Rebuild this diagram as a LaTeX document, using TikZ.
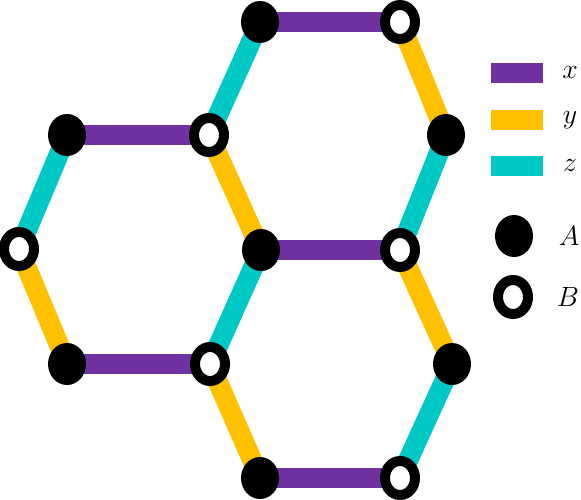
\documentclass[tikz,border=0pt]{standalone}
\usetikzlibrary{shapes.geometric,backgrounds}
\definecolor{cx}{RGB}{112,50,160}
\definecolor{cy}{RGB}{255,192,0}
\definecolor{cz}{RGB}{0,200,197}
\newcommand{\biglab}[1]{\scalebox{1.12}{\Huge$#1$}}
\begin{document}
\begin{tikzpicture}[x=1pt,y=-1pt,
  siteA/.style={ellipse,fill=black,minimum width=38pt,minimum height=42pt,inner sep=0pt},
  siteB/.style={ellipse,fill=white,draw=black,line width=10pt,minimum width=30pt,minimum height=34pt,inner sep=0pt},
  bond/.style={line width=20pt},
  bx/.style={bond,cx},
  by/.style={bond,cy},
  bz/.style={bond,cz},
  key/.style={rectangle,minimum width=52pt,minimum height=20pt,inner sep=0pt},
  lab/.style={inner sep=0pt}]
\useasboundingbox (0,0) rectangle (581,500);
% sites
\node[siteA] (a1) at (260,22) {};
\node[siteB] (b1) at (400,22) {};
\node[siteA] (a2) at (67,135) {};
\node[siteB] (b2) at (209,135) {};
\node[siteA] (a3) at (446,135) {};
\node[siteB] (b3) at (19,249) {};
\node[siteA] (a4) at (261,250) {};
\node[siteB] (b4) at (400,250) {};
\node[siteA] (a5) at (67,364) {};
\node[siteB] (b5) at (210,364) {};
\node[siteA] (a6) at (452,364) {};
\node[siteA] (a7) at (260,478) {};
\node[siteB] (b7) at (400,478) {};
\begin{scope}[on background layer]
\draw[bx] (a1.center) -- (b1.center);
\draw[by] (b1.center) -- (a3.center);
\draw[bz] (a3.center) -- (b4.center);
\draw[bx] (b4.center) -- (a4.center);
\draw[by] (a4.center) -- (b2.center);
\draw[bz] (b2.center) -- (a1.center);
\draw[bx] (a2.center) -- (b2.center);
\draw[bz] (a2.center) -- (b3.center);
\draw[by] (b3.center) -- (a5.center);
\draw[bx] (a5.center) -- (b5.center);
\draw[bz] (b5.center) -- (a4.center);
\draw[by] (b4.center) -- (a6.center);
\draw[bz] (a6.center) -- (b7.center);
\draw[bx] (b7.center) -- (a7.center);
\draw[by] (a7.center) -- (b5.center);
\end{scope}
% legend
\node[key,fill=cx] (kx) at (517,73) {};
\node[key,fill=cy] (ky) at (517,120) {};
\node[key,fill=cz] (kz) at (517,166) {};
\node[lab] (lx) at (570,73) {\biglab{x}};
\node[lab] (ly) at (570,120) {\biglab{y}};
\node[lab] (lz) at (570,166) {\biglab{z}};
\node[siteA] (ka) at (514,236) {};
\node[siteB] (kb) at (513,297) {};
\node[lab] (la) at (569,236) {\biglab{A}};
\node[lab] (lb) at (568,297) {\biglab{B}};
\end{tikzpicture}
\end{document}
